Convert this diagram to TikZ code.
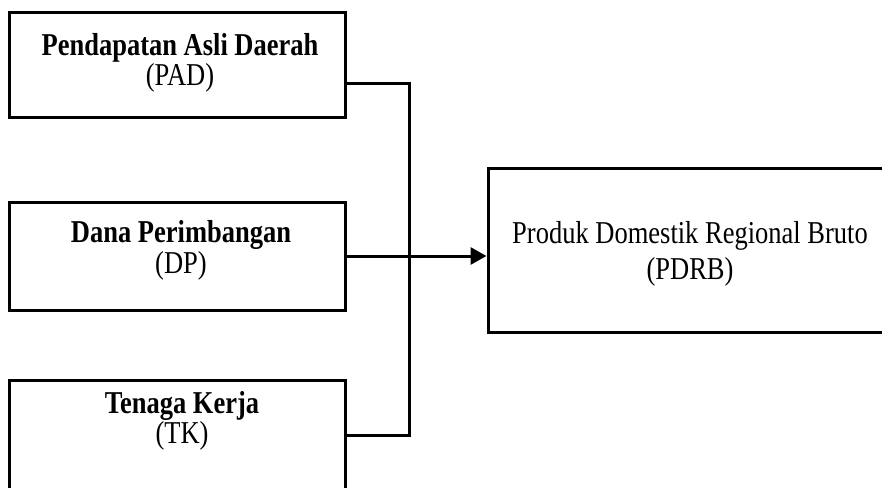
\documentclass[tikz,border=0pt]{standalone}
\usepackage{graphicx}
\usepackage{fontspec}
\setmainfont{Liberation Serif}
\usetikzlibrary{arrows.meta}
\newcommand{\tallline}[1]{\scalebox{1}[1.2]{#1}}
\begin{document}
\begin{tikzpicture}[x=1pt,y=-1pt,
  box/.style={draw=black, line width=3pt, rectangle, inner sep=0pt},
  txt/.style={align=center, inner sep=0pt, font=\fontsize{26.5}{30}\selectfont},
  conn/.style={line width=3pt}]
\useasboundingbox (0,0) rectangle (882,487);
\clip (0,0) rectangle (882,487);
\node[box, minimum width=336pt, minimum height=104pt] (pad) at (177,65) {};
\node[box, minimum width=336pt, minimum height=108pt] (dp) at (177,256) {};
\node[box, minimum width=336pt, minimum height=110pt] (tk) at (177,435) {};
\node[box, minimum width=404pt, minimum height=164pt] (pdrb) at (690,250) {};
\node[txt] (padt) at (180,62.6) {\tallline{\textbf{Pendapatan Asli Daerah}}\\\tallline{(PAD)}};
\node[txt, font=\fontsize{26.5}{31}\selectfont] (dpt) at (181,250) {\tallline{\textbf{Dana Perimbangan}}\\\tallline{(DP)}};
\node[txt] (tkt) at (182,420.6) {\tallline{\textbf{Tenaga Kerja}}\\\tallline{(TK)}};
\node[txt, font=\fontsize{26.5}{36}\selectfont] (pdrbt) at (690,253.6) {\tallline{Produk Domestik Regional Bruto}\\\tallline{(PDRB)}};
\coordinate (j) at (409,255);
\draw[conn] ([yshift=-18pt]pad.east) -| (j);
\draw[conn] (tk.east) -| (j);
\draw[conn, -{Triangle[length=16pt,width=17pt]}] (dp.east) -- (dp.east -| pdrb.west);
\end{tikzpicture}
\end{document}
